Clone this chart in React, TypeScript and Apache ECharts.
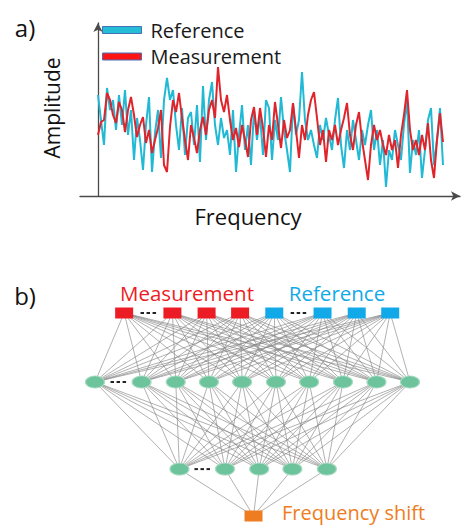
import React, { useEffect, useRef } from "react";
import * as echarts from "echarts";

// ---- Panel a) : spectra (amplitude, arbitrary units) ----
const referenceValues = [
  101, 76, 51, 108, 86, 96, 66, 101, 71, 106, 61, 86, 36, 78, 56, 26, 71, 99, 24, 63,
  86, 38, 96, 118, 96, 106, 71, 46, 88, 41, 78, 84, 51, 91, 34, 110, 56, 96, 114, 71,
  51, 78, 58, 66, 41, 86, 24, 61, 91, 46, 71, 31, 86, 56, 81, 41, 96,
  88, 36, 76, 56, 99, 66, 46, 24, 93, 61, 76, 124, 76, 56, 66, 51, 38, 71, 56, 78,
  61, 46, 76, 98, 51, 28, 66, 46, 76, 56, 36, 66, 51, 71, 86, 46, 66, 31, 56, 9,
  46, 36, 66, 51, 36, 71, 96, 23, 56, 41, 66, 18, 46, 76, 88, 31, 56, 88, 31,
];
const measurementValues = [
  61, 74, 76, 103, 96, 81, 73, 94, 86, 64, 86, 99, 81, 59, 71, 79, 53, 66, 43, 56,
  68, 86, 31, 24, 69, 96, 84, 103, 78, 56, 36, 71, 58, 43, 66, 79, 61, 86, 96, 78,
  129, 96, 84, 101, 76, 56, 68, 49, 71, 56, 39, 76, 89, 61, 88, 68, 39,
  71, 56, 94, 71, 48, 76, 58, 66, 93, 66, 38, 71, 56, 81, 96, 104, 78, 51, 66, 34,
  66, 56, 71, 51, 66, 78, 93, 61, 46, 71, 84, 56, 36, 16, 51, 71, 56, 66, 51, 41,
  61, 46, 56, 28, 61, 81, 106, 66, 46, 56, 41, 61, 46, 73, 36, 18, 56, 83, 54,
];
const seriesNames = ["Reference", "Measurement"];

// ---- Panel b) : network layers (slot positions, layer depth) ----
const inputSlots = [0.87, 2.31, 3.33, 4.33, 5.35, 6.79, 7.81, 8.81];
const inputKinds = ["m", "m", "m", "m", "r", "r", "r", "r"];
const hidden1Slots = [0, 1.39, 2.41, 3.4, 4.39, 5.4, 6.39, 7.4, 8.4, 9.4];
const hidden2Slots = [2.52, 3.88, 4.9, 5.89, 6.92];
const outputSlots = [4.73];
const layerDepths = [0, 2.06, 4.66, 6.06];
const ellipsisGaps = [
  { layer: 0, after: 0 },
  { layer: 0, after: 4 },
  { layer: 1, after: 0 },
  { layer: 2, after: 0 },
];

const FONT = "'Open Sans', sans-serif";
const CYAN = "#22B9D4";
const RED = "#E0242C";
const M_RED = "#EC1C24";
const R_BLUE = "#12A9E8";
const ORANGE = "#EE7D22";
const GREEN = "#6DC49C";

export default function App() {
  const ref = useRef<HTMLDivElement>(null);

  useEffect(() => {
    if (!ref.current) return;
    const chart = echarts.init(ref.current, undefined, { renderer: "svg" });

    const layers = [inputSlots, hidden1Slots, hidden2Slots, outputSlots];
    const edges: any[] = [];
    for (let l = 0; l < layers.length - 1; l++) {
      layers[l].forEach((a) => {
        layers[l + 1].forEach((b) => {
          edges.push({ coords: [[a, layerDepths[l]], [b, layerDepths[l + 1]]] });
        });
      });
    }
    const inputData = inputSlots.map((s, i) => ({
      value: [s, layerDepths[0]],
      itemStyle: { color: inputKinds[i] === "m" ? M_RED : R_BLUE, opacity: 1 },
    }));
    const dots: number[][] = [];
    ellipsisGaps.forEach((g) => {
      const arr = layers[g.layer];
      const mid = (arr[g.after] + arr[g.after + 1]) / 2;
      [-0.18, 0, 0.18].forEach((d) => dots.push([mid + d, layerDepths[g.layer]]));
    });

    const option: any = {
      animation: false,
      grid: [
        { left: 80, top: 23, right: 6, bottom: 330 },
        { left: 95, right: 56, top: 313, bottom: 10 },
      ],
      xAxis: [
        {
          type: "value",
          gridIndex: 0,
          min: -6,
          max: 120.67,
          axisLine: {
            show: true,
            symbol: ["none", "arrow"],
            symbolSize: [7, 9],
            lineStyle: { color: "#4a4a4a", width: 1.3 },
          },
          axisTick: { show: false },
          axisLabel: { show: false },
          splitLine: { show: false },
        },
        { type: "value", gridIndex: 1, min: 0, max: 9.4, show: false },
      ],
      yAxis: [
        {
          type: "value",
          gridIndex: 0,
          min: 0,
          max: 173,
          axisLine: {
            show: true,
            symbol: ["none", "arrow"],
            symbolSize: [7, 9],
            lineStyle: { color: "#4a4a4a", width: 1.3 },
          },
          axisTick: { show: false },
          axisLabel: { show: false },
          splitLine: { show: false },
        },
        { type: "value", gridIndex: 1, min: 0, max: 6.06, inverse: true, show: false },
      ],
      legend: {
        orient: "vertical",
        left: 97,
        top: 15,
        itemWidth: 39,
        itemHeight: 7,
        itemGap: 6.5,
        textStyle: { fontFamily: FONT, fontSize: 20, color: "#1a1a1a", padding: [0, 0, 0, 4] },
        data: [
          { name: seriesNames[0], icon: "rect", itemStyle: { color: "#25BCD6", borderColor: "#4470B8", borderWidth: 1 } },
          { name: seriesNames[1], icon: "rect", itemStyle: { color: "#FF1414", borderColor: "#4470B8", borderWidth: 1 } },
        ],
      },
      series: [
        {
          name: seriesNames[0],
          type: "line",
          xAxisIndex: 0,
          yAxisIndex: 0,
          data: referenceValues.map((v, i) => [i, v]),
          symbol: "none",
          lineStyle: { color: CYAN, width: 2 },
          itemStyle: { color: CYAN },
        },
        {
          name: seriesNames[1],
          type: "line",
          xAxisIndex: 0,
          yAxisIndex: 0,
          data: measurementValues.map((v, i) => [i, v]),
          symbol: "none",
          lineStyle: { color: RED, width: 2 },
          itemStyle: { color: RED },
        },
        {
          type: "lines",
          coordinateSystem: "cartesian2d",
          xAxisIndex: 1,
          yAxisIndex: 1,
          z: 2,
          silent: true,
          lineStyle: { color: "#858585", width: 0.75, opacity: 0.85 },
          data: edges,
        },
        {
          type: "scatter",
          xAxisIndex: 1,
          yAxisIndex: 1,
          clip: false,
          z: 4,
          symbol: "rect",
          symbolSize: [18, 11],
          itemStyle: { opacity: 1 },
          data: inputData,
        },
        {
          type: "scatter",
          xAxisIndex: 1,
          yAxisIndex: 1,
          clip: false,
          z: 4,
          symbol: "circle",
          symbolSize: [19, 12],
          itemStyle: { color: GREEN, borderColor: "#A9DBC3", borderWidth: 1, opacity: 1 },
          data: [
            ...hidden1Slots.map((s) => [s, layerDepths[1]]),
            ...hidden2Slots.map((s) => [s, layerDepths[2]]),
          ],
        },
        {
          type: "scatter",
          xAxisIndex: 1,
          yAxisIndex: 1,
          clip: false,
          z: 4,
          symbol: "rect",
          symbolSize: [18, 11],
          itemStyle: { color: ORANGE, opacity: 1 },
          data: outputSlots.map((s) => [s, layerDepths[3]]),
        },
        {
          type: "scatter",
          xAxisIndex: 1,
          yAxisIndex: 1,
          clip: false,
          z: 5,
          symbol: "rect",
          symbolSize: [3.5, 2],
          itemStyle: { color: "#222", opacity: 1 },
          data: dots,
        },
      ],
      graphic: [
        { type: "text", x: 25, y: 27, style: { text: "a)", font: `24px ${FONT}`, fill: "#111", textAlign: "center", align: "center", textVerticalAlign: "middle", verticalAlign: "middle" } },
        { type: "text", x: 52, y: 108, rotation: Math.PI / 2, style: { text: "Amplitude", font: `21px ${FONT}`, fill: "#111", textAlign: "center", align: "center", textVerticalAlign: "middle", verticalAlign: "middle" } },
        { type: "text", x: 248, y: 216, style: { text: "Frequency", font: `22px ${FONT}`, fill: "#111", textAlign: "center", align: "center", textVerticalAlign: "middle", verticalAlign: "middle" } },
        { type: "text", x: 25, y: 295, style: { text: "b)", font: `24px ${FONT}`, fill: "#111", textAlign: "center", align: "center", textVerticalAlign: "middle", verticalAlign: "middle" } },
        { type: "text", x: 187, y: 293, style: { text: "Measurement", font: `20.5px ${FONT}`, fill: M_RED, textAlign: "center", align: "center", textVerticalAlign: "middle", verticalAlign: "middle" } },
        { type: "text", x: 337, y: 293, style: { text: "Reference", font: `20.5px ${FONT}`, fill: R_BLUE, textAlign: "center", align: "center", textVerticalAlign: "middle", verticalAlign: "middle" } },
        { type: "text", x: 282, y: 512, style: { text: "Frequency shift", font: `20px ${FONT}`, fill: ORANGE, textAlign: "left", align: "left", textVerticalAlign: "middle", verticalAlign: "middle" } },
      ],
    };

    chart.setOption(option);
    return () => chart.dispose();
  }, []);

  return (
    <div
      ref={ref}
      style={{ position: "fixed", left: 0, top: 0, width: 466, height: 526, background: "#fff" }}
    />
  );
}
